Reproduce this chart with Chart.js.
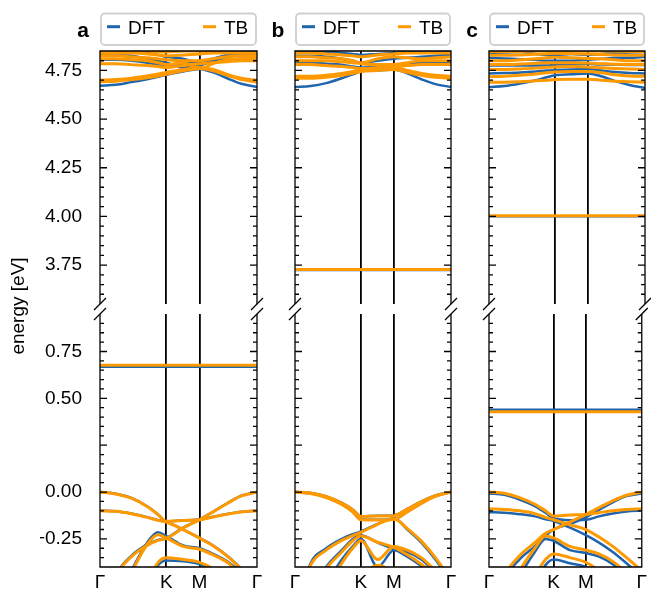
<!DOCTYPE html>
<html>
<head>
<meta charset="utf-8">
<title>Band structures: DFT vs TB</title>
<script src="https://cdn.jsdelivr.net/npm/chart.js@4.4.1/dist/chart.umd.min.js"></script>
<style>
  html, body { margin: 0; padding: 0; background: #fff; }
  #figure { position: relative; width: 651px; height: 592px; }
  #figure canvas { position: absolute; left: 0; top: 0; }
</style>
</head>
<body>
<div id="figure">
  <canvas id="aTop" width="651" height="592"></canvas>
  <canvas id="aBottom" width="651" height="592"></canvas>
  <canvas id="bTop" width="651" height="592"></canvas>
  <canvas id="bBottom" width="651" height="592"></canvas>
  <canvas id="cTop" width="651" height="592"></canvas>
  <canvas id="cBottom" width="651" height="592"></canvas>
</div>
<script>
// k-path coordinate (Γ-K-M-Γ), tick positions and labels
const kPath = [0, 0.1, 0.2, 0.3, 0.37, 0.4226, 0.53, 0.634, 0.72, 0.81, 0.9, 1.0];
const kTicks = [0, 0.4226, 0.634, 1.0];
const kLabels = ['Γ', 'K', 'M', 'Γ'];
const topTicks = [3.75, 4.0, 4.25, 4.5, 4.75];
const bottomTicks = [-0.25, 0, 0.25, 0.5, 0.75];
const seriesLabels = ['DFT', 'TB'];
const panelLetters = ['a', 'b', 'c'];

// panel a
const aTopDft = [
    [4.672, 4.676, 4.690, 4.705, 4.718, 4.728, 4.745, 4.758, 4.740, 4.710, 4.682, 4.665],
    [4.805, 4.805, 4.800, 4.790, 4.780, 4.770, 4.785, 4.800, 4.800, 4.805, 4.810, 4.810],
    [4.835, 4.830, 4.825, 4.810, 4.800, 4.790, 4.765, 4.775, 4.800, 4.820, 4.830, 4.835],
    [4.860, 4.855, 4.845, 4.840, 4.830, 4.820, 4.810, 4.790, 4.810, 4.830, 4.840, 4.848],
];
const aTopTb = [
    [4.692, 4.695, 4.703, 4.713, 4.722, 4.730, 4.748, 4.760, 4.748, 4.725, 4.703, 4.690],
    [4.700, 4.703, 4.710, 4.722, 4.732, 4.740, 4.755, 4.765, 4.755, 4.730, 4.710, 4.700],
    [4.785, 4.785, 4.780, 4.775, 4.770, 4.765, 4.775, 4.785, 4.790, 4.795, 4.800, 4.800],
    [4.810, 4.810, 4.805, 4.800, 4.790, 4.780, 4.790, 4.760, 4.785, 4.805, 4.810, 4.815],
    [4.825, 4.825, 4.820, 4.815, 4.810, 4.805, 4.800, 4.800, 4.810, 4.820, 4.825, 4.825],
    [4.840, 4.840, 4.840, 4.835, 4.830, 4.825, 4.830, 4.835, 4.840, 4.840, 4.840, 4.840],
    [4.855, 4.855, 4.850, 4.850, 4.845, 4.845, 4.850, 4.850, 4.850, 4.855, 4.855, 4.855],
];
const aBottomDft = [
    [0.000, -0.009, -0.032, -0.076, -0.120, -0.156, -0.151, -0.147, -0.132, -0.117, -0.105, -0.099],
    [-0.099, -0.102, -0.115, -0.134, -0.150, -0.159, -0.200, -0.245, -0.285, -0.340, -0.410, -0.500],
    [-0.750, -0.450, -0.340, -0.280, -0.255, -0.245, -0.190, -0.147, -0.105, -0.060, -0.020, 0.000],
    [-0.800, -0.600, -0.420, -0.270, -0.215, -0.235, -0.285, -0.300, -0.330, -0.370, -0.430, -0.500],
    [-0.900, -0.800, -0.650, -0.500, -0.390, -0.365, -0.370, -0.385, -0.420, -0.480, -0.550, -0.600],
    [0.668, 0.668, 0.668, 0.668, 0.668, 0.668, 0.668, 0.668, 0.668, 0.668, 0.668, 0.668],
];
const aBottomTb = [
    [0.000, -0.010, -0.033, -0.077, -0.121, -0.156, -0.152, -0.148, -0.133, -0.118, -0.106, -0.100],
    [-0.100, -0.103, -0.116, -0.135, -0.151, -0.160, -0.201, -0.246, -0.287, -0.342, -0.412, -0.500],
    [-0.750, -0.455, -0.345, -0.285, -0.258, -0.247, -0.192, -0.148, -0.106, -0.061, -0.021, 0.000],
    [-0.800, -0.600, -0.430, -0.280, -0.228, -0.245, -0.290, -0.305, -0.335, -0.375, -0.440, -0.500],
    [-0.900, -0.800, -0.650, -0.490, -0.375, -0.350, -0.360, -0.375, -0.410, -0.470, -0.540, -0.600],
    [0.676, 0.676, 0.676, 0.676, 0.676, 0.676, 0.676, 0.676, 0.676, 0.676, 0.676, 0.676],
];

// panel b
const bTopDft = [
    [4.665, 4.670, 4.685, 4.710, 4.730, 4.745, 4.750, 4.755, 4.735, 4.705, 4.680, 4.665],
    [4.790, 4.790, 4.785, 4.780, 4.770, 4.765, 4.770, 4.780, 4.785, 4.790, 4.790, 4.790],
    [4.825, 4.825, 4.820, 4.810, 4.800, 4.790, 4.800, 4.810, 4.815, 4.820, 4.825, 4.830],
    [4.850, 4.848, 4.845, 4.840, 4.835, 4.830, 4.835, 4.840, 4.845, 4.850, 4.850, 4.850],
    [3.725, 3.725, 3.725, 3.725, 3.725, 3.725, 3.725, 3.725, 3.725, 3.725, 3.725, 3.725],
];
const bTopTb = [
    [4.710, 4.710, 4.715, 4.725, 4.735, 4.745, 4.750, 4.755, 4.740, 4.725, 4.715, 4.710],
    [4.720, 4.720, 4.725, 4.735, 4.745, 4.755, 4.760, 4.765, 4.750, 4.735, 4.725, 4.720],
    [4.780, 4.780, 4.775, 4.770, 4.765, 4.760, 4.765, 4.770, 4.775, 4.780, 4.780, 4.780],
    [4.800, 4.800, 4.800, 4.795, 4.790, 4.785, 4.780, 4.780, 4.790, 4.800, 4.800, 4.800],
    [4.820, 4.820, 4.815, 4.810, 4.800, 4.790, 4.810, 4.820, 4.815, 4.810, 4.815, 4.820],
    [4.840, 4.840, 4.835, 4.830, 4.825, 4.820, 4.830, 4.835, 4.840, 4.840, 4.840, 4.840],
    [3.727, 3.727, 3.727, 3.727, 3.727, 3.727, 3.727, 3.727, 3.727, 3.727, 3.727, 3.727],
];
const bBottomDft = [
    [0.000, -0.005, -0.023, -0.058, -0.093, -0.129, -0.127, -0.125, -0.090, -0.050, -0.018, 0.000],
    [0.000, -0.007, -0.028, -0.065, -0.105, -0.147, -0.148, -0.145, -0.105, -0.060, -0.022, 0.000],
    [-0.650, -0.380, -0.300, -0.250, -0.225, -0.210, -0.170, -0.140, -0.200, -0.270, -0.360, -0.480],
    [-0.800, -0.550, -0.400, -0.310, -0.250, -0.230, -0.270, -0.305, -0.345, -0.395, -0.455, -0.550],
    [-0.900, -0.700, -0.500, -0.360, -0.290, -0.250, -0.400, -0.310, -0.320, -0.360, -0.430, -0.500],
];
const bBottomTb = [
    [0.000, -0.005, -0.024, -0.059, -0.094, -0.130, -0.128, -0.126, -0.091, -0.051, -0.019, 0.000],
    [0.000, -0.008, -0.029, -0.066, -0.106, -0.148, -0.149, -0.146, -0.106, -0.061, -0.023, 0.000],
    [-0.650, -0.390, -0.310, -0.258, -0.232, -0.215, -0.172, -0.142, -0.195, -0.262, -0.350, -0.470],
    [-0.800, -0.560, -0.410, -0.320, -0.260, -0.235, -0.268, -0.295, -0.335, -0.385, -0.445, -0.540],
    [-0.900, -0.700, -0.520, -0.380, -0.300, -0.260, -0.360, -0.290, -0.310, -0.350, -0.420, -0.500],
    [-1.000, -0.900, -0.750, -0.600, -0.500, -0.450, -0.390, -0.430, -0.500, -0.600, -0.700, -0.800],
];

// panel c
const cTopDft = [
    [4.665, 4.670, 4.683, 4.700, 4.715, 4.725, 4.730, 4.735, 4.720, 4.695, 4.675, 4.660],
    [4.735, 4.737, 4.740, 4.745, 4.750, 4.752, 4.755, 4.758, 4.750, 4.742, 4.737, 4.735],
    [4.775, 4.775, 4.775, 4.775, 4.775, 4.780, 4.780, 4.785, 4.780, 4.780, 4.778, 4.778],
    [4.815, 4.812, 4.808, 4.805, 4.800, 4.800, 4.800, 4.805, 4.810, 4.815, 4.815, 4.820],
    [4.840, 4.842, 4.845, 4.835, 4.830, 4.830, 4.835, 4.830, 4.835, 4.840, 4.842, 4.845],
    [4.001, 4.001, 4.001, 4.001, 4.001, 4.001, 4.001, 4.001, 4.001, 4.001, 4.001, 4.001],
];
const cTopTb = [
    [4.690, 4.690, 4.692, 4.697, 4.700, 4.703, 4.705, 4.705, 4.700, 4.695, 4.692, 4.690],
    [4.718, 4.720, 4.725, 4.732, 4.738, 4.742, 4.745, 4.745, 4.738, 4.728, 4.722, 4.720],
    [4.755, 4.755, 4.758, 4.762, 4.766, 4.768, 4.770, 4.768, 4.764, 4.760, 4.757, 4.755],
    [4.780, 4.780, 4.783, 4.787, 4.790, 4.790, 4.790, 4.788, 4.785, 4.782, 4.780, 4.780],
    [4.800, 4.800, 4.805, 4.810, 4.815, 4.818, 4.815, 4.812, 4.810, 4.805, 4.800, 4.800],
    [4.828, 4.828, 4.830, 4.833, 4.836, 4.838, 4.836, 4.834, 4.832, 4.830, 4.828, 4.828],
    [4.848, 4.848, 4.848, 4.850, 4.852, 4.852, 4.850, 4.850, 4.850, 4.849, 4.848, 4.848],
    [4.003, 4.003, 4.003, 4.003, 4.003, 4.003, 4.003, 4.003, 4.003, 4.003, 4.003, 4.003],
];
const cBottomDft = [
    [-0.008, -0.015, -0.040, -0.075, -0.110, -0.140, -0.150, -0.148, -0.130, -0.115, -0.104, -0.099],
    [-0.108, -0.110, -0.118, -0.130, -0.145, -0.155, -0.190, -0.230, -0.270, -0.320, -0.380, -0.450],
    [-0.720, -0.470, -0.360, -0.290, -0.235, -0.200, -0.170, -0.135, -0.095, -0.055, -0.022, -0.008],
    [-0.820, -0.600, -0.450, -0.320, -0.250, -0.260, -0.310, -0.325, -0.345, -0.385, -0.450, -0.520],
    [-0.950, -0.800, -0.650, -0.500, -0.390, -0.360, -0.380, -0.400, -0.440, -0.500, -0.570, -0.640],
    [0.439, 0.439, 0.439, 0.439, 0.439, 0.439, 0.439, 0.439, 0.439, 0.439, 0.439, 0.439],
];
const cBottomTb = [
    [0.000, -0.007, -0.030, -0.065, -0.100, -0.128, -0.122, -0.120, -0.110, -0.100, -0.093, -0.090],
    [-0.090, -0.093, -0.100, -0.115, -0.135, -0.148, -0.175, -0.200, -0.240, -0.290, -0.350, -0.420],
    [-0.700, -0.450, -0.340, -0.270, -0.220, -0.200, -0.160, -0.120, -0.083, -0.047, -0.017, 0.000],
    [-0.800, -0.580, -0.420, -0.300, -0.235, -0.245, -0.290, -0.310, -0.330, -0.370, -0.430, -0.500],
    [-0.900, -0.750, -0.600, -0.450, -0.360, -0.330, -0.350, -0.375, -0.420, -0.480, -0.550, -0.620],
    [0.428, 0.428, 0.428, 0.428, 0.428, 0.428, 0.428, 0.428, 0.428, 0.428, 0.428, 0.428],
];

const BLUE = '#1f65ae';
const ORANGE = '#ff9900';
const FONT = '"Liberation Sans", Arial, Helvetica, sans-serif';

const sections = {
    top: { min: 3.55, max: 4.85, ticks: topTicks, top: 51, bottom: 304 },
    bottom: { min: -0.4, max: 0.95, ticks: bottomTicks, top: 314, bottom: 567 },
};
const panelX = [[100, 257], [295, 451], [489, 645]];
// the scale boxes must be wide enough, Chart.js clips tick labels to them
const yAxisWidth = 60;
const xAxisHeight = 25;

function toPoints(band) {
    return band.map((e, i) => ({ x: kPath[i], y: e }));
}

function bandSets(dft, tb) {
    const line = { pointRadius: 0, fill: false, cubicInterpolationMode: 'monotone', clip: 0, borderJoinStyle: 'round' };
    return [
        ...tb.map(b => ({ ...line, label: seriesLabels[1], data: toPoints(b), borderColor: ORANGE, borderWidth: 3, order: 0 })),
        ...dft.map(b => ({ ...line, label: seriesLabels[0], data: toPoints(b), borderColor: BLUE, borderWidth: 2.5, order: 1 })),
    ];
}

// spines, inward ticks, break marks, legend box and panel letters
const framePlugin = {
    id: 'frame',
    afterDraw(chart, args, opts) {
        const { ctx, chartArea: a } = chart;
        const y = chart.scales.y;
        const isTop = opts.part === 'top';
        const edge = isTop ? a.top : a.bottom;
        const open = isTop ? a.bottom : a.top;

        ctx.save();
        ctx.strokeStyle = '#000';
        ctx.lineWidth = 1.3;
        ctx.beginPath();
        ctx.moveTo(a.left, open);
        ctx.lineTo(a.left, edge);
        ctx.lineTo(a.right, edge);
        ctx.lineTo(a.right, open);
        ctx.stroke();

        const tick = (v, len) => {
            const py = y.getPixelForValue(v);
            ctx.moveTo(a.left, py);
            ctx.lineTo(a.left + len, py);
            ctx.moveTo(a.right, py);
            ctx.lineTo(a.right - len, py);
        };
        ctx.beginPath();
        y.ticks.forEach(t => tick(t.value, 7));
        for (let i = Math.round(y.min * 20) + 1; i < Math.round(y.max * 20); i++) {
            if (i % 5 !== 0) tick(i / 20, 4);
        }
        ctx.stroke();

        const d = 6;
        ctx.beginPath();
        [a.left, a.right].forEach(x => {
            ctx.moveTo(x - d, open + d);
            ctx.lineTo(x + d, open - d);
        });
        ctx.stroke();

        if (isTop) {
            const L = a.left;
            ctx.fillStyle = '#fff';
            ctx.strokeStyle = '#d0d0d0';
            ctx.lineWidth = 1.8;
            ctx.beginPath();
            ctx.roundRect(L + 1, 13.5, a.right - L - 2, 31.5, 4);
            ctx.fill();
            ctx.stroke();

            ctx.font = '19px ' + FONT;
            ctx.textBaseline = 'alphabetic';
            ctx.textAlign = 'left';
            [[seriesLabels[0], 7], [seriesLabels[1], 103]].forEach(([label, off]) => {
                const ds = chart.data.datasets.find(s => s.label === label);
                ctx.strokeStyle = ds.borderColor;
                ctx.lineWidth = 3;
                ctx.beginPath();
                ctx.moveTo(L + off, 26.7);
                ctx.lineTo(L + off + 13, 26.7);
                ctx.stroke();
                ctx.fillStyle = '#000';
                ctx.fillText(label, L + off + 21, 33.5);
            });

            ctx.font = 'bold 21px ' + FONT;
            ctx.textAlign = 'center';
            ctx.fillText(panelLetters[opts.panel], L - 17, 36.5);
        }

        if (opts.yTitle) {
            ctx.fillStyle = '#000';
            ctx.font = '19px ' + FONT;
            ctx.translate(24, 306);
            ctx.rotate(-Math.PI / 2);
            ctx.textAlign = 'center';
            ctx.textBaseline = 'alphabetic';
            ctx.fillText(opts.yTitle, 0, 0);
        }
        ctx.restore();
    },
};

function makeChart(id, p, part, dft, tb) {
    const sec = sections[part];
    const [left, right] = panelX[p];
    const yw = p === 0 ? yAxisWidth : 0;
    const xh = part === 'bottom' ? xAxisHeight : 0;
    return new Chart(document.getElementById(id), {
        type: 'line',
        data: { datasets: bandSets(dft, tb) },
        options: {
            responsive: false,
            animation: false,
            events: [],
            layout: { padding: { left: left - yw, right: 651 - right, top: sec.top, bottom: 592 - sec.bottom - xh } },
            plugins: {
                legend: { display: false },
                tooltip: { enabled: false },
                frame: { panel: p, part, yTitle: (p === 0 && part === 'bottom') ? 'energy [eV]' : null },
            },
            scales: {
                x: {
                    type: 'linear',
                    min: 0,
                    max: 1,
                    afterBuildTicks: s => { s.ticks = kTicks.map(v => ({ value: v })); },
                    afterFit: s => { s.height = xh; },
                    border: { display: false },
                    grid: {
                        drawTicks: false,
                        lineWidth: 1.8,
                        color: c => (c.tick && (c.tick.value === kTicks[1] || c.tick.value === kTicks[2])) ? '#000' : 'rgba(0,0,0,0)',
                    },
                    ticks: {
                        display: part === 'bottom',
                        autoSkip: false,
                        maxRotation: 0,
                        padding: 4,
                        color: '#000',
                        font: { family: FONT, size: 19 },
                        callback: (v, i) => kLabels[i],
                    },
                },
                y: {
                    min: sec.min,
                    max: sec.max,
                    afterBuildTicks: s => { s.ticks = sec.ticks.map(v => ({ value: v })); },
                    afterFit: s => { s.width = yw; },
                    border: { display: false },
                    grid: { display: false },
                    ticks: {
                        display: p === 0,
                        autoSkip: false,
                        padding: 10,
                        color: '#000',
                        font: { family: FONT, size: 19 },
                        callback: v => v === 0.25 ? '' : v.toFixed(2).replace('-', '\u2212'),
                    },
                },
            },
        },
        plugins: [framePlugin],
    });
}

makeChart('aTop', 0, 'top', aTopDft, aTopTb);
makeChart('aBottom', 0, 'bottom', aBottomDft, aBottomTb);
makeChart('bTop', 1, 'top', bTopDft, bTopTb);
makeChart('bBottom', 1, 'bottom', bBottomDft, bBottomTb);
makeChart('cTop', 2, 'top', cTopDft, cTopTb);
makeChart('cBottom', 2, 'bottom', cBottomDft, cBottomTb);
</script>
</body>
</html>
